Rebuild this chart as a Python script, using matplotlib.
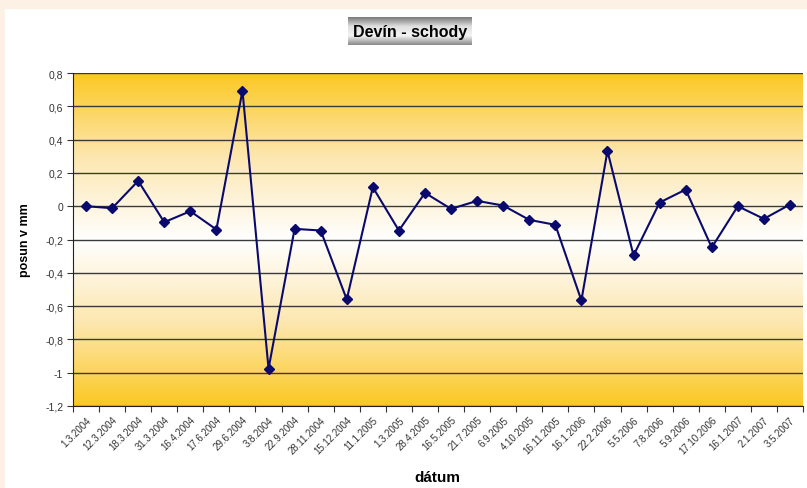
import matplotlib
matplotlib.use("Agg")
import matplotlib.pyplot as plt
import numpy as np
from matplotlib.patches import Rectangle
from matplotlib.colors import LinearSegmentedColormap

plt.rcParams['font.family'] = ['Liberation Sans', 'DejaVu Sans']

dates = ["1.3.2004", "12.3.2004", "18.3.2004", "31.3.2004", "16.4.2004", "17.6.2004",
         "29.6.2004", "3.8.2004", "22.9.2004", "28.11.2004", "15.12.2004", "11.1.2005",
         "1.3.2005", "28.4.2005", "16.5.2005", "21.7.2005", "6.9.2005", "4.10.2005",
         "16.11.2005", "16.1.2006", "22.2.2006", "5.5.2006", "7.8.2006", "5.9.2006",
         "17.10.2006", "16.1.2007", "2.1.2007", "3.5.2007"]
posun = [0.0, -0.012, 0.152, -0.096, -0.03, -0.14, 0.694, -0.976, -0.136, -0.146,
         -0.56, 0.114, -0.146, 0.08, -0.016, 0.032, 0.004, -0.082, -0.112, -0.566,
         0.332, -0.296, 0.022, 0.1, -0.248, 0.0, -0.076, 0.01]
yticks = [0.8, 0.6, 0.4, 0.2, 0.0, -0.2, -0.4, -0.6, -0.8, -1.0, -1.2]
ytick_labels = ["0,8", "0,6", "0,4", "0,2", "0", "-0,2", "-0,4", "-0,6", "-0,8", "-1", "-1,2"]

W, H = 807, 489
fig = plt.figure(figsize=(W / 100, H / 100), dpi=100)
fig.patch.set_facecolor('#fdf1e6')

# white panel
fig.patches.append(Rectangle((5 / W, 0), 1 - 5 / W, 1 - 10 / H, transform=fig.transFigure,
                             facecolor='white', edgecolor='none', zorder=-10))

ax = fig.add_axes([73 / W, 1 - 407 / H, (803 - 73) / W, (407 - 74) / H])
n = len(dates)
x = np.arange(n)
ax.set_xlim(-0.5, n - 0.5)
ax.set_ylim(-1.2, 0.8)

# gradient background: gold top & bottom, white in middle
cmap = LinearSegmentedColormap.from_list('g', ['#fbc822', '#fde7b0', '#ffffff', '#fde7b0', '#fbc822'])
grad = np.linspace(0, 1, 256).reshape(-1, 1)
ax.imshow(grad, extent=(-0.5, n - 0.5, -1.2, 0.8), aspect='auto', cmap=cmap, zorder=0,
          interpolation='bicubic')

for t in yticks:
    ax.axhline(t, color='#3a3a3a', lw=1.0, zorder=1)

ax.plot(x, posun, color='#0a0a6e', lw=1.5, marker='D', markersize=5.5,
        markerfacecolor='#0a0a6e', markeredgecolor='#0a0a6e', zorder=3)

ax.set_yticks(yticks)
ax.set_yticklabels(ytick_labels, fontsize=7.5, color='#333333')
ax.set_xticks(np.arange(n + 1) - 0.5, minor=False)
ax.set_xticklabels([])
ax.set_xticks(x, minor=True)
ax.set_xticklabels(dates, minor=True, rotation=45, ha='right', rotation_mode='anchor',
                   fontsize=7, color='#333333')
ax.tick_params(axis='x', which='major', length=4, color='#333333')
ax.tick_params(axis='x', which='minor', length=0, pad=6)
ax.tick_params(axis='y', length=4, color='#333333', pad=3)

for s in ['top', 'right']:
    ax.spines[s].set_visible(False)
ax.spines['left'].set_color('#222222')
ax.spines['bottom'].set_color('#222222')
ax.spines['left'].set_zorder(4)

ax.set_ylabel('posun v mm', fontsize=9, fontweight='bold', labelpad=10)
fig.text(437 / W, 1 - 478 / H, 'dátum', fontsize=11, fontweight='bold', ha='center', va='center')

# title box with gray gradient
tax = fig.add_axes([348 / W, 1 - 46 / H, (472 - 348) / W, 28 / H])
tcmap = LinearSegmentedColormap.from_list('t', ['#7a7a7a', '#e0e0e0', '#f4f4f4', '#8a8a8a'])
tgrad = np.linspace(0, 1, 64).reshape(-1, 1)
tax.imshow(tgrad, extent=(0, 1, 0, 1), aspect='auto', cmap=tcmap, interpolation='bicubic')
tax.set_axis_off()
tax.text(0.5, 0.5, 'Devín - schody', fontsize=11.5, fontweight='bold', ha='center', va='center',
         transform=tax.transAxes)

fig.savefig('out.png', dpi=100, facecolor=fig.get_facecolor())
